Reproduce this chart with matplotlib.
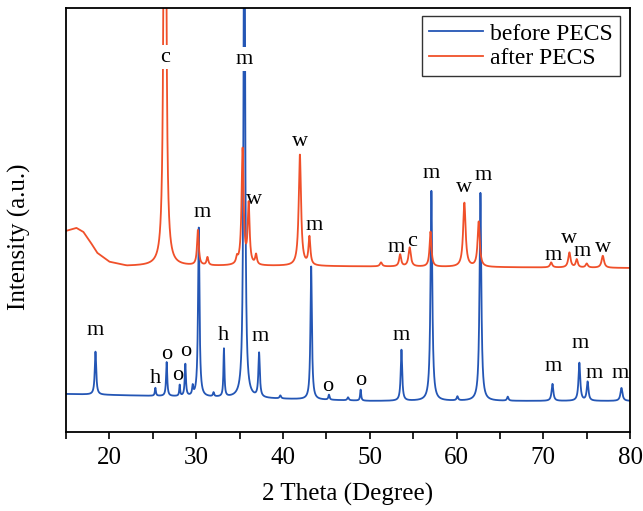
import numpy as np
import matplotlib.pyplot as plt

plt.rcParams['font.family'] = ['Liberation Serif', 'DejaVu Serif']

# background knots (2theta, intensity), a.u.
blue_bg_x = [15, 25, 40, 50, 80]
blue_bg_y = [38, 36, 33, 31, 31]
red_bg_x = [15, 16.2, 17, 17.8, 18.6, 20, 22, 40, 60, 80]
red_bg_y = [201, 204, 200, 190, 179, 170, 166, 166, 165, 164]

# peaks: position, height above background, half width
blue_pos = [18.4, 25.3, 26.6, 28.1, 28.75, 29.6, 30.3, 32.0, 33.2, 35.55, 37.25,
            39.7, 43.25, 45.3, 47.5, 48.95, 53.65, 57.1, 60.1, 62.75, 65.9,
            71.05, 74.15, 75.1, 79.0]
blue_h = [43, 8, 34, 11, 32, 9, 169, 4, 48, 600, 44,
          3, 133, 5, 3, 11, 51, 210, 4, 208, 4,
          17, 38, 19, 13]
blue_w = [0.1, 0.07, 0.08, 0.06, 0.08, 0.08, 0.1, 0.08, 0.07, 0.1, 0.1,
          0.1, 0.1, 0.08, 0.1, 0.07, 0.1, 0.12, 0.1, 0.12, 0.1,
          0.12, 0.12, 0.12, 0.14]

red_pos = [26.4, 30.2, 31.3, 34.7, 35.35, 36.05, 36.9, 41.95, 43.05, 51.3,
           53.5, 54.6, 57.0, 60.9, 62.55, 70.9, 73.0, 73.85, 75.0, 76.85]
red_h = [1200, 35, 8, 6, 116, 60, 10, 111, 28, 4,
         12, 19, 35, 64, 45, 5, 15, 8, 4, 12]
red_w = [0.1, 0.12, 0.12, 0.12, 0.14, 0.13, 0.12, 0.16, 0.13, 0.15,
         0.14, 0.16, 0.13, 0.17, 0.15, 0.15, 0.16, 0.14, 0.15, 0.17]

# peak phase labels: text, 2theta, height
blue_lab = ['m', 'h', 'o', 'o', 'o', 'h', 'm', 'o', 'o', 'm', 'm', 'm', 'm', 'm']
blue_lab_x = [18.4, 25.25, 26.6, 27.9, 28.8, 33.1, 37.35, 45.1, 49.0, 53.6,
              71.1, 74.2, 75.8, 78.9]
blue_lab_y = [102, 54, 78, 57, 81, 97, 96, 46, 52, 97, 66, 89, 59, 59]

red_lab = ['m', 'w', 'w', 'm', 'm', 'c', 'm', 'w', 'm', 'm', 'w', 'm', 'w']
red_lab_x = [30.7, 36.65, 42.0, 43.6, 53.1, 54.9, 57.05, 60.85, 63.05,
             71.1, 72.95, 74.45, 76.9]
red_lab_y = [220, 233, 291, 207, 185, 191, 259, 245, 257, 177, 194, 181, 185]

top_lab = ['c', 'm']
top_lab_x = [26.4, 35.55]
top_lab_y = [375, 373]

x = np.arange(15, 80.001, 0.01)


def pattern(bg_x, bg_y, pos, h, w):
    y = np.interp(x, bg_x, bg_y)
    for p, a, g in zip(pos, h, w):
        y = y + a / (1 + ((x - p) / g) ** 2)
    return y


blue = pattern(blue_bg_x, blue_bg_y, blue_pos, blue_h, blue_w)
red = pattern(red_bg_x, red_bg_y, red_pos, red_h, red_w)

fig = plt.figure(figsize=(6.43, 5.11), dpi=100)
ax = fig.add_axes([0.1026, 0.1546, 0.8774, 0.8297])

ax.plot(x, blue, color='#2456b5', lw=1.3, label='before PECS')
ax.plot(x, red, color='#f0502a', lw=1.3, label='after PECS')

for t, lx, ly in zip(blue_lab, blue_lab_x, blue_lab_y):
    ax.text(lx, ly, t, fontsize=16, ha='center', va='center')
for t, lx, ly in zip(red_lab, red_lab_x, red_lab_y):
    ax.text(lx, ly, t, fontsize=16, ha='center', va='center')
for t, lx, ly in zip(top_lab, top_lab_x, top_lab_y):
    ax.text(lx, ly, t, fontsize=16, ha='center', va='center',
            bbox=dict(facecolor='white', edgecolor='none', pad=2))

ax.set_xlim(15, 80)
ax.set_ylim(0, 424)
ax.set_xticks([20, 30, 40, 50, 60, 70, 80])
ax.set_xticks([15, 25, 35, 45, 55, 65, 75], minor=True)
ax.tick_params(axis='x', which='both', direction='out', length=5, width=1.2,
               labelsize=18, pad=6)
ax.set_yticks([])
for s in ax.spines.values():
    s.set_linewidth(1.3)

ax.set_xlabel('2 Theta (Degree)', fontsize=18, labelpad=10)
ax.set_ylabel('Intensity (a.u.)', fontsize=18)
ax.yaxis.set_label_coords(-0.062, 0.46)

leg = ax.legend(loc='upper right', bbox_to_anchor=(0.982, 0.981),
                borderaxespad=0, fontsize=17, handlelength=2.3,
                handletextpad=0.3, labelspacing=0.12, fancybox=False,
                framealpha=1, borderpad=0.3)
leg.get_frame().set_edgecolor('#333333')
leg.get_frame().set_linewidth(1.0)

fig.savefig('out.png', dpi=100)
